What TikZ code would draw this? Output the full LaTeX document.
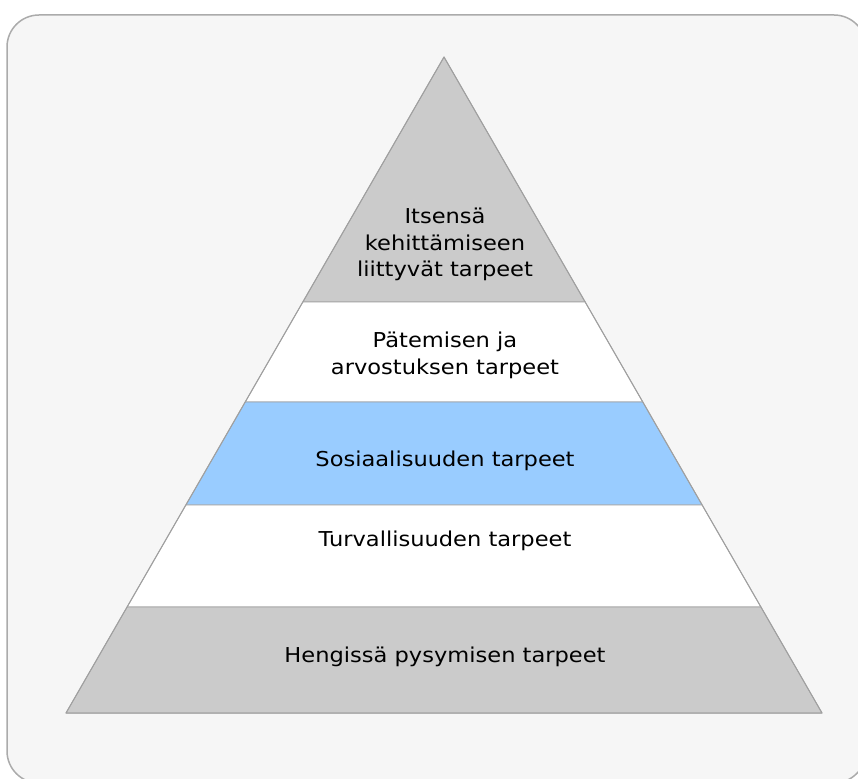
\documentclass[tikz,border=0pt]{standalone}
\usepackage{fontspec}
\setmainfont{DejaVu Sans}[FakeStretch=1.1]
\usepackage{tikz}
\usetikzlibrary{calc}
\definecolor{boxbg}{HTML}{F6F6F6}
\definecolor{boxline}{HTML}{ABABAB}
\definecolor{lvlgray}{HTML}{CBCBCB}
\definecolor{lvlblue}{HTML}{99CCFF}
\definecolor{lvlline}{HTML}{A0A0A0}

\begin{document}
\begin{tikzpicture}[x=1pt,y=-1pt,
  every node/.style={inner sep=0pt,align=center,font=\fontsize{20.5}{26.5}\selectfont},
  level/.style={draw=lvlline,line width=0.8pt,line join=round}]
\useasboundingbox (0,0) rectangle (858,778);
\draw[fill=boxbg,draw=boxline,line width=1.5pt,rounded corners=32pt] (7,15) rectangle (866,783);

\coordinate (top) at (444,57);
\coordinate (bl) at (66,713);
\coordinate (br) at (822,713);

\coordinate (l1) at ($(top)!0.3735!(bl)$);
\coordinate (r1) at ($(top)!0.3735!(br)$);
\coordinate (l2) at ($(top)!0.5259!(bl)$);
\coordinate (r2) at ($(top)!0.5259!(br)$);
\coordinate (l3) at ($(top)!0.6829!(bl)$);
\coordinate (r3) at ($(top)!0.6829!(br)$);
\coordinate (l4) at ($(top)!0.8384!(bl)$);
\coordinate (r4) at ($(top)!0.8384!(br)$);

\draw[level,fill=lvlgray] (top) -- (r1) -- (l1) -- cycle;
\draw[level,fill=white] (l1) -- (r1) -- (r2) -- (l2) -- cycle;
\draw[level,fill=lvlblue] (l2) -- (r2) -- (r3) -- (l3) -- cycle;
\draw[level,fill=white] (l3) -- (r3) -- (r4) -- (l4) -- cycle;
\draw[level,fill=lvlgray] (l4) -- (r4) -- (br) -- (bl) -- cycle;
\draw[draw=lvlline,line width=1pt,line join=round] (top) -- (br) -- (bl) -- cycle;

\node (n5) at (445,208) [anchor=north] {Itsensä\\kehittämiseen\\liittyvät tarpeet};
\node (n4) at (445,332) [anchor=north] {Pätemisen ja\\arvostuksen tarpeet};
\node (n3) at (445,466) [anchor=base] {Sosiaalisuuden tarpeet};
\node (n2) at (445,546) [anchor=base] {Turvallisuuden tarpeet};
\node (n1) at (445,662) [anchor=base] {Hengissä pysymisen tarpeet};
\end{tikzpicture}
\end{document}
